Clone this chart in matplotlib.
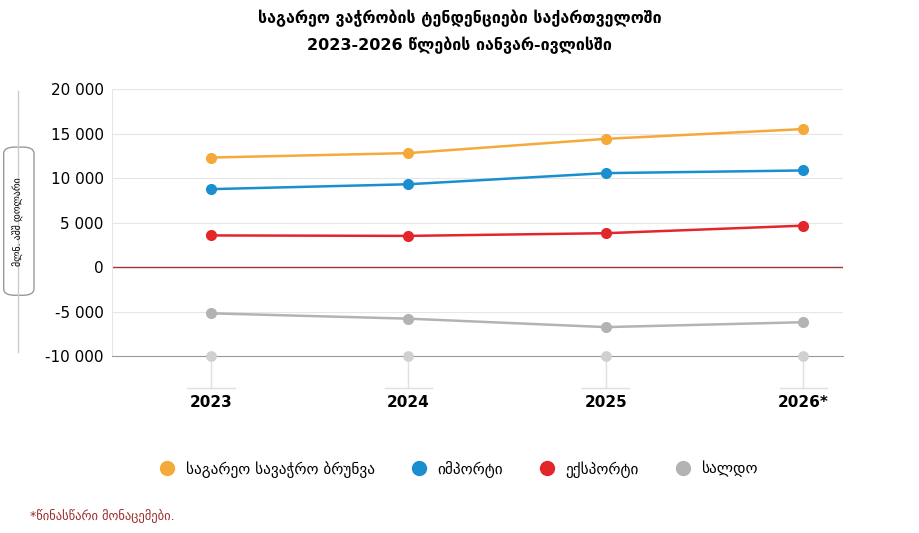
import matplotlib.pyplot as plt
from matplotlib.patches import FancyBboxPatch

plt.rcParams['font.family'] = ['DejaVu Sans']

years = ['2023', '2024', '2025', '2026*']
turnover = [12300, 12800, 14400, 15500]
imports = [8750, 9300, 10550, 10850]
exports = [3550, 3500, 3800, 4650]
saldo = [-5200, -5800, -6750, -6200]
yticks = [-10000, -5000, 0, 5000, 10000, 15000, 20000]
ylabels = ['-10 000', '-5 000', '0', '5 000', '10 000', '15 000', '20 000']
names = ['საგარეო სავაჭრო ბრუნვა', 'იმპორტი', 'ექსპორტი', 'სალდო']
colors = ['#f5a93a', '#1a8fd0', '#e3262b', '#b3b3b3']

fig = plt.figure(figsize=(9.19, 5.33), dpi=100)
ax = fig.add_axes([0.122, 0.332, 0.795, 0.501])
x = list(range(len(years)))
for ys, c, n in zip([turnover, imports, exports, saldo], colors, names):
    ax.plot(x, ys, color=c, lw=1.8, marker='o', ms=7, label=n, zorder=3)
ax.scatter(x, [-10000] * 4, color='#d0d0d0', s=45, zorder=3, clip_on=False)
ax.axhline(0, color='#a0383a', lw=1, zorder=2)
ax.set_ylim(-10000, 20000)
ax.set_xlim(-0.5, 3.2)
ax.set_yticks(yticks)
ax.set_yticklabels(ylabels, fontsize=11)
ax.grid(axis='y', color='#e6e6e6', lw=0.8)
for s in ['top', 'right', 'left']:
    ax.spines[s].set_visible(False)
ax.spines['bottom'].set_color('#999999')
ax.axvline(-0.5, color='#e6e6e6', lw=0.8)
ax.tick_params(axis='y', length=0, pad=6)
ax.set_xticks(x)
ax.set_xticklabels(years, fontsize=11, fontweight='bold')
ax.tick_params(axis='x', length=0, pad=28)
for xi in x:
    ax.plot([xi, xi], [-10000, -13600], color='#e0e0e0', lw=1, clip_on=False, zorder=1)
    ax.plot([xi - 0.12, xi + 0.12], [-13600, -13600], color='#e0e0e0', lw=1, clip_on=False)

fig.text(0.5, 0.965, 'საგარეო ვაჭრობის ტენდენციები საქართველოში', ha='center',
         va='center', fontsize=11.5, fontweight='bold')
fig.text(0.5, 0.915, '2023-2026 წლების იანვარ-ივლისში', ha='center',
         va='center', fontsize=11.5, fontweight='bold')

fig.add_artist(plt.Line2D([0.02, 0.02], [0.34, 0.83], color='#cccccc', lw=1))
box = FancyBboxPatch((0.008, 0.45), 0.025, 0.27, boxstyle='round,pad=0.004,rounding_size=0.012',
                     transform=fig.transFigure, fc='white', ec='#999999', lw=1)
fig.add_artist(box)
fig.text(0.0205, 0.585, 'მლნ. აშშ დოლარი', rotation=90, ha='center', va='center', fontsize=7)

fig.legend(loc='center', bbox_to_anchor=(0.5, 0.12), ncol=4, frameon=False,
           fontsize=11, handlelength=0.8, columnspacing=2.5)
leg = fig.legends[0]
for h in leg.legend_handles:
    h.set_linestyle('none')
    h.set_markersize(10)
fig.text(0.033, 0.025, '*წინასწარი მონაცემები.', color='#9b2a2a', fontsize=9)

fig.savefig('out.png', dpi=100)
